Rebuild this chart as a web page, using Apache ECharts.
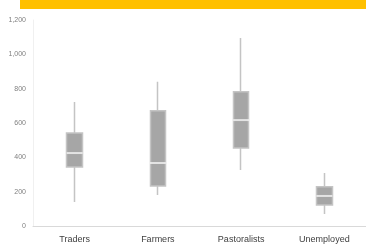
<!DOCTYPE html>
<html>
<head>
<meta charset="utf-8">
<script src="https://cdn.jsdelivr.net/npm/echarts@6/dist/echarts.min.js"></script>
<style>
  html, body { margin: 0; padding: 0; background: #fff; }
  #chart { width: 366px; height: 251px; }
</style>
</head>
<body>
<div id="chart"></div>
<script>
// data
var categories = ['Traders', 'Farmers', 'Pastoralists', 'Unemployed'];
var lows    = [140, 181, 326, 70];
var q1s     = [344, 233, 454, 122];
var medians = [425, 367, 617, 175];
var q3s     = [542, 671, 782, 229];
var highs   = [722, 840, 1095, 309];
var yTicks  = [0, 200, 400, 600, 800, 1000, 1200];

// box + whisker without end caps: candlestick [open, close, lowest, highest]
var boxData = categories.map(function (c, i) {
    return [q1s[i], q3s[i], lows[i], highs[i]];
});

var myChart = echarts.init(document.getElementById('chart'));

var option = {
    animation: false,
    textStyle: { fontFamily: 'Liberation Sans Narrow, Liberation Sans, sans-serif' },
    graphic: [{
        type: 'rect',
        shape: { x: 20, y: 0, width: 346, height: 9 },
        style: { fill: '#ffc000' }
    }],
    grid: { left: 33, right: 0, top: 20, bottom: 25 },
    xAxis: {
        type: 'category',
        data: categories,
        axisLine: { lineStyle: { color: '#d9d9d9' } },
        axisTick: { show: false },
        axisLabel: { color: '#404040', fontSize: 9, margin: 9 }
    },
    yAxis: {
        type: 'value',
        min: yTicks[0],
        max: yTicks[yTicks.length - 1],
        interval: 200,
        axisLine: { show: true, lineStyle: { color: '#f0f0f0' } },
        axisTick: { show: false },
        splitLine: { show: false },
        axisLabel: {
            color: '#808080',
            fontSize: 7,
            margin: 7,
            formatter: function (v) { return v.toLocaleString('en-US'); }
        }
    },
    series: [{
        type: 'candlestick',
        data: boxData,
        barWidth: 16,
        itemStyle: {
            color: '#a6a6a6', color0: '#a6a6a6',
            borderColor: '#c4c4c4', borderColor0: '#c4c4c4',
            borderWidth: 1.5
        }
    }, {
        // white median bars over the boxes
        type: 'scatter',
        data: medians,
        symbol: 'rect',
        symbolSize: [16, 2],
        itemStyle: { color: '#f2f2f2' },
        z: 5
    }]
};

myChart.setOption(option);
</script>
</body>
</html>
